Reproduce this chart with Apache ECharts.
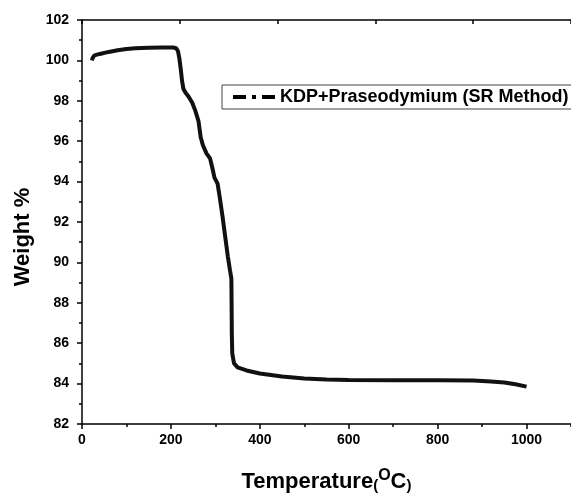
<!DOCTYPE html>
<html>
<head>
<meta charset="utf-8">
<script src="https://cdn.jsdelivr.net/npm/echarts@6/dist/echarts.min.js"></script>
<style>html,body{margin:0;padding:0;background:#fff}#c{width:571px;height:498px}</style>
</head>
<body>
<div id="c"></div>
<script>
var temperature = [22, 24, 28, 40, 60, 80, 100, 120, 150, 180, 205, 212, 216, 219, 222, 225, 228, 233, 240, 248, 255, 262, 267, 272, 280, 288, 293, 298, 305, 310, 316, 322, 328, 333, 336, 336.5, 337, 338, 342, 350, 370, 400, 450, 500, 550, 600, 700, 800, 880, 920, 950, 975, 1000];
var weight = [100.0, 100.12, 100.25, 100.32, 100.42, 100.5, 100.56, 100.6, 100.63, 100.64, 100.64, 100.6, 100.45, 100.1, 99.6, 99.0, 98.6, 98.4, 98.2, 97.9, 97.5, 97.0, 96.2, 95.8, 95.4, 95.15, 94.7, 94.2, 93.9, 93.2, 92.3, 91.3, 90.3, 89.6, 89.2, 88.0, 86.5, 85.5, 85.0, 84.8, 84.65, 84.5, 84.35, 84.25, 84.2, 84.18, 84.17, 84.16, 84.15, 84.1, 84.05, 83.97, 83.85];
var seriesName = 'KDP+Praseodymium (SR Method)';
var xTitle = 'Temperature';
var yTitle = 'Weight %';

var points = temperature.map(function (t, i) { return [t, weight[i]]; });
var FONT = '"Liberation Sans", Arial, sans-serif';
var chart = echarts.init(document.getElementById('c'), null, {renderer: 'canvas'});
var axisLine = {show: true, lineStyle: {color: '#000', width: 1.5}};
chart.setOption({
  backgroundColor: '#fff',
  animation: false,
  grid: {left: 82, top: 20, width: 500, height: 405, containLabel: false},
  legend: {
    left: 222, top: 85,
    padding: [3, 3, 3, 11],
    borderColor: '#444', borderWidth: 1,
    itemWidth: 42, itemHeight: 4,
    icon: 'path://M0,0H13V4H0Z M19,0H23V4H19Z M29,0H42V4H29Z',
    itemStyle: {color: '#000'},
    textStyle: {fontFamily: FONT, fontWeight: 'bold', fontSize: 18, color: '#000'},
    data: [seriesName]
  },
  xAxis: [
    {
      type: 'value', min: 0, max: 1100, interval: 200, position: 'bottom',
      axisLine: axisLine,
      axisTick: {show: true, inside: false, length: 5, lineStyle: {color: '#000', width: 1.5}},
      axisLabel: {fontFamily: FONT, fontWeight: 'bold', fontSize: 14, color: '#000', margin: 9, showMaxLabel: false,
        formatter: function (v) { return String(v); }},
      splitLine: {show: false},
      name: '{a|' + xTitle + '}{p|(}{s|O}{a|C}{p|)}',
      nameLocation: 'middle', nameGap: 44,
      nameTextStyle: {
        rich: {
          a: {fontFamily: FONT, fontWeight: 'bold', fontSize: 22, color: '#000', verticalAlign: 'bottom'},
          p: {fontFamily: FONT, fontWeight: 'bold', fontSize: 15, color: '#000', verticalAlign: 'bottom'},
          s: {fontFamily: FONT, fontWeight: 'bold', fontSize: 16, color: '#000', verticalAlign: 'bottom', padding: [0, 0, 9, 0]}
        }
      }
    },
    {
      type: 'value', min: 0, max: 1100, interval: 100, position: 'bottom',
      axisLine: {show: false},
      axisTick: {show: true, inside: false, length: 3, lineStyle: {color: '#000', width: 1.5}},
      axisLabel: {show: false},
      splitLine: {show: false}
    },
    {
      type: 'value', min: 0, max: 5, interval: 1, position: 'top',
      axisLine: axisLine,
      axisTick: {show: true, inside: true, length: 4, lineStyle: {color: '#000', width: 1.5}},
      axisLabel: {show: false},
      splitLine: {show: false}
    }
  ],
  yAxis: {
    type: 'value', min: 82, max: 102, interval: 2,
    axisLine: axisLine,
    axisTick: {show: true, inside: false, length: 5, lineStyle: {color: '#000', width: 1.5}},
    minorTick: {show: true, splitNumber: 2, length: 3, lineStyle: {color: '#000', width: 1.5}},
    axisLabel: {fontFamily: FONT, fontWeight: 'bold', fontSize: 14, color: '#000', margin: 13},
    splitLine: {show: false},
    name: yTitle, nameLocation: 'middle', nameGap: 48,
    nameTextStyle: {fontFamily: FONT, fontWeight: 'bold', fontSize: 22, color: '#000', padding: [0, 30, 0, 0]}
  },
  series: [{
    name: seriesName,
    type: 'line',
    xAxisIndex: 0,
    data: points,
    showSymbol: false,
    symbol: 'none',
    color: '#000',
    lineStyle: {color: '#111', width: 4}
  }]
});
</script>
</body>
</html>
